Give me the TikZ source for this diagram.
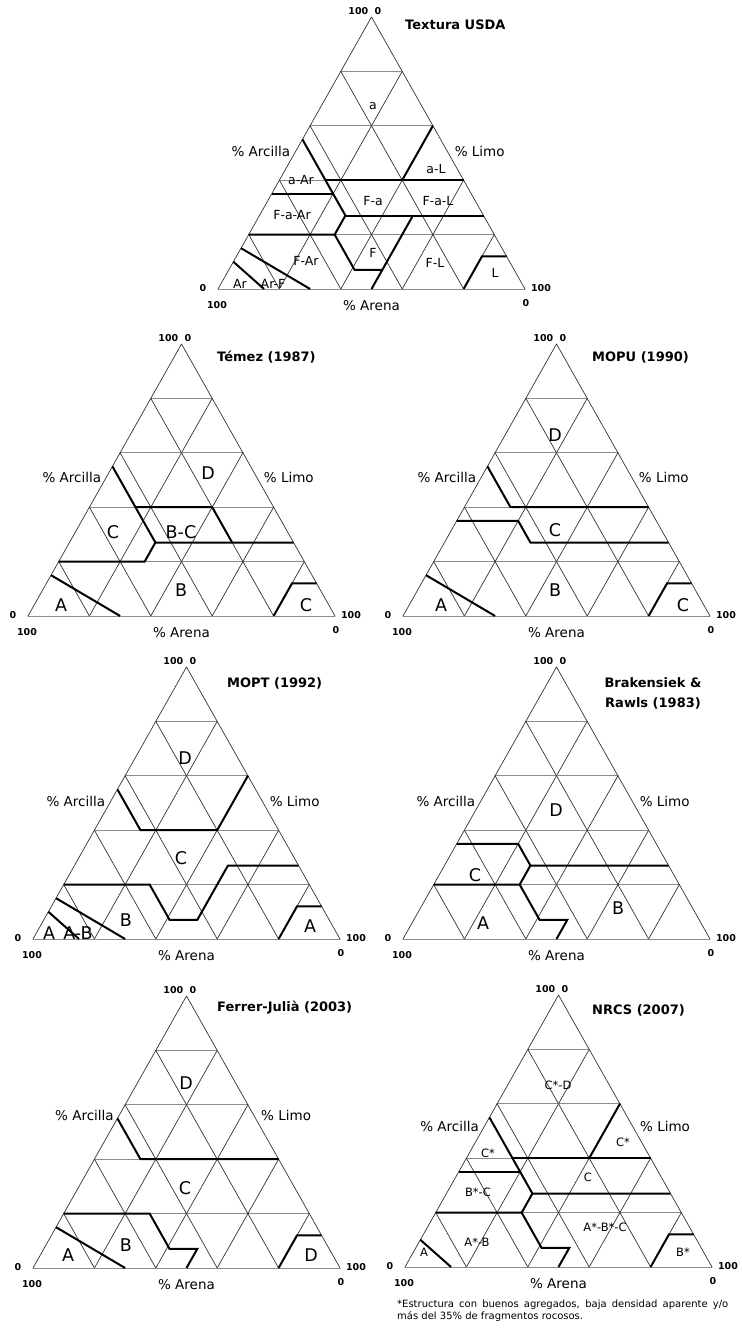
\documentclass[tikz,border=0pt]{standalone}
\usepackage{fontspec}
\setmainfont{DejaVu Sans}

\tikzset{
  gridh/.style={draw=black!45, line width=0.9pt},
  gridd/.style={draw=black!80, line width=0.7pt},
  bound/.style={draw=black, line width=2pt, line cap=butt, line join=miter},
  numlab/.style={font=\bfseries\fontsize{9.5}{10}\selectfont, inner sep=0pt},
  axlab/.style={font=\fontsize{13.5}{15}\selectfont, inner sep=0pt},
  titlelab/.style={font=\bfseries\fontsize{13}{15}\selectfont, inner sep=0pt, anchor=west},
  zonelab/.style={font=\fontsize{17.5}{18}\selectfont, inner sep=0pt},
  smalllab/.style={font=\fontsize{11.5}{12}\selectfont, inner sep=0pt},
  usdalab/.style={font=\fontsize{12.5}{13}\selectfont, inner sep=0pt},
  ternary/.style={x={(3.07pt,0pt)}, y={(1.535pt,2.72pt)}}
}

% grid of one triangle, coordinates are (% limo, % arcilla)
\newcommand{\soilgrid}{%
  \foreach \k in {20,40,60,80} {
    \draw[gridh] (0,\k) -- ({100-\k},\k);
    \draw[gridd] (\k,0) -- (\k,{100-\k});
    \draw[gridd] (\k,0) -- (0,\k);
  }
  \draw[gridh] (0,0) -- (100,0);
  \draw[gridd] (0,0) -- (0,100) -- (100,0);
}

% corner numbers and axis names (#1 = name prefix, #2 = height of side names)
\newcommand{\soilaxes}[2]{%
  \node[numlab, anchor=south east, xshift=-3pt, yshift=2.5pt] (#1-t100) at (0,100) {100};
  \node[numlab, anchor=south west, xshift=3pt, yshift=2.5pt] (#1-t0) at (0,100) {0};
  \node[numlab, xshift=-15pt, yshift=1pt] (#1-l0) at (0,0) {0};
  \node[numlab, xshift=-1pt, yshift=-16pt] (#1-l100) at (0,0) {100};
  \node[numlab, xshift=16pt, yshift=1pt] (#1-r100) at (100,0) {100};
  \node[numlab, xshift=1pt, yshift=-14pt] (#1-r0) at (100,0) {0};
  \node[axlab, yshift=-17pt] (#1-arena) at (50,0) {\% Arena};
  \node[axlab, anchor=east, xshift=-5pt] (#1-arcilla) at (0,#2) {\% Arcilla};
  \node[axlab, anchor=west, xshift=7pt] (#1-limo) at ({100-#2},#2) {\% Limo};
}

\begin{document}
\begin{tikzpicture}[line cap=round, line join=round, x=1pt, y=1pt]

  \useasboundingbox (0,0) rectangle (741,1332);

  % Textura USDA
  \begin{scope}[shift={(218,1043)}, ternary]
    \soilgrid
    \soilaxes{usda}{50.4}
    \node[titlelab] (usda-title) at (187pt,264pt) {Textura USDA};

    \draw[bound] (0,55) -- (28,27);
    \draw[bound] (15,40) -- (60,40);
    \draw[bound] (40,40) -- (40,60);
    \draw[bound] (0,35) -- (20,35);
    \draw[bound] (28,27) -- (73,27);
    \draw[bound] (50,27) -- (50,0);
    \draw[bound] (0,20) -- (28,20) -- (28,27);
    \draw[bound] (28,20) -- (41,7) -- (50,7);
    \draw[bound] (0,10) -- (15,0);
    \draw[bound] (0,15) -- (30,0);
    \draw[bound] (80,0) -- (80,12) -- (88,12);

    \node[usdalab] (usda-a) at (155pt,183pt) {a};
    \node[usdalab] (usda-aL) at (218pt,120pt) {a-L};
    \node[usdalab] (usda-aAr) at (83pt,109pt) {a-Ar};
    \node[usdalab] (usda-Fa) at (155pt,88pt) {F-a};
    \node[usdalab] (usda-FaL) at (220pt,88pt) {F-a-L};
    \node[usdalab] (usda-FaAr) at (74pt,74pt) {F-a-Ar};
    \node[usdalab] (usda-F) at (155pt,36pt) {F};
    \node[usdalab] (usda-FAr) at (88pt,28pt) {F-Ar};
    \node[usdalab] (usda-FL) at (217pt,26pt) {F-L};
    \node[usdalab] (usda-L) at (277pt,16pt) {L};
    \node[usdalab] (usda-Ar) at (22pt,5pt) {Ar};
    \node[usdalab] (usda-ArF) at (55pt,5pt) {Ar-F};
  \end{scope}

  % Temez (1987)
  \begin{scope}[shift={(28,716)}, ternary]
    \soilgrid
    \soilaxes{tem}{51}
    \node[titlelab] (tem-title) at (189pt,259pt) {Témez (1987)};

    \draw[bound] (0,55) -- (28,27) -- (73,27);
    \draw[bound] (15,40) -- (40,40) -- (53,27);
    \draw[bound] (28,27) -- (28,20) -- (0,20);
    \draw[bound] (0,15) -- (30,0);
    \draw[bound] (80,0) -- (80,12) -- (88,12);

    \node[zonelab] (tem-D) at (180pt,143pt) {D};
    \node[zonelab] (tem-C) at (85pt,84pt) {C};
    \node[zonelab] (tem-BC) at (153pt,84pt) {B-C};
    \node[zonelab] (tem-B) at (153pt,26pt) {B};
    \node[zonelab] (tem-A) at (33pt,11pt) {A};
    \node[zonelab] (tem-C2) at (278pt,11pt) {C};
  \end{scope}

  % MOPU (1990)
  \begin{scope}[shift={(403,716)}, ternary]
    \soilgrid
    \soilaxes{mopu}{51}
    \node[titlelab] (mopu-title) at (189pt,259pt) {MOPU (1990)};

    \draw[bound] (0,55) -- (15,40) -- (60,40);
    \draw[bound] (0,35) -- (20,35) -- (28,27) -- (73,27);
    \draw[bound] (0,15) -- (30,0);
    \draw[bound] (80,0) -- (80,12) -- (88,12);

    \node[zonelab] (mopu-D) at (152pt,181pt) {D};
    \node[zonelab] (mopu-C) at (152pt,86pt) {C};
    \node[zonelab] (mopu-B) at (152pt,26pt) {B};
    \node[zonelab] (mopu-A) at (38pt,11pt) {A};
    \node[zonelab] (mopu-C2) at (280pt,11pt) {C};
  \end{scope}

  % MOPT (1992)
  \begin{scope}[shift={(33,393)}, ternary]
    \soilgrid
    \soilaxes{mopt}{50.4}
    \node[titlelab] (mopt-title) at (194pt,256pt) {MOPT (1992)};

    \draw[bound] (0,55) -- (15,40) -- (40,40) -- (40,60);
    \draw[bound] (0,20) -- (28,20) -- (41,7) -- (50,7) -- (50,27) -- (73,27);
    \draw[bound] (0,10) -- (15,0);
    \draw[bound] (0,15) -- (30,0);
    \draw[bound] (80,0) -- (80,12) -- (88,12);

    \node[zonelab] (mopt-D) at (152pt,181pt) {D};
    \node[zonelab] (mopt-C) at (148pt,81pt) {C};
    \node[zonelab] (mopt-B) at (93pt,19pt) {B};
    \node[zonelab] (mopt-A) at (16pt,6pt) {A};
    \node[zonelab] (mopt-AB) at (45pt,6pt) {A-B};
    \node[zonelab] (mopt-A2) at (277pt,13pt) {A};
  \end{scope}

  % Brakensiek & Rawls (1983)
  \begin{scope}[shift={(403,393)}, ternary]
    \soilgrid
    \soilaxes{brak}{50.4}
    \node[titlelab, anchor=center, align=center, font=\bfseries\fontsize{13}{20}\selectfont] (brak-title) at (250pt,246pt) {Brakensiek \&\\Rawls (1983)};

    \draw[bound] (0,35) -- (20,35) -- (28,27) -- (73,27);
    \draw[bound] (0,20) -- (28,20) -- (28,27);
    \draw[bound] (28,20) -- (41,7) -- (50,7) -- (50,0);

    \node[zonelab] (brak-D) at (153pt,129pt) {D};
    \node[zonelab] (brak-C) at (72pt,64pt) {C};
    \node[zonelab] (brak-A) at (80pt,16pt) {A};
    \node[zonelab] (brak-B) at (215pt,31pt) {B};
  \end{scope}

  % Ferrer-Julia (2003)
  \begin{scope}[shift={(33,64)}, ternary]
    \soilgrid
    \soilaxes{ferr}{56}
    \node[titlelab] (ferr-title) at (184pt,260pt) {Ferrer-Julià (2003)};

    \draw[bound] (0,55) -- (15,40) -- (60,40);
    \draw[bound] (0,20) -- (28,20) -- (41,7) -- (50,7) -- (50,0);
    \draw[bound] (0,15) -- (30,0);
    \draw[bound] (80,0) -- (80,12) -- (88,12);

    \node[zonelab] (ferr-D) at (153pt,185pt) {D};
    \node[zonelab] (ferr-C) at (152pt,80pt) {C};
    \node[zonelab] (ferr-B) at (93pt,23pt) {B};
    \node[zonelab] (ferr-A) at (35pt,13pt) {A};
    \node[zonelab] (ferr-D2) at (278pt,13pt) {D};
  \end{scope}

  % NRCS (2007)
  \begin{scope}[shift={(405,65)}, ternary]
    \soilgrid
    \soilaxes{nrcs}{51.5}
    \node[titlelab] (nrcs-title) at (187pt,257pt) {NRCS (2007)};

    \draw[bound] (0,55) -- (28,27) -- (73,27);
    \draw[bound] (15,40) -- (60,40);
    \draw[bound] (0,35) -- (20,35);
    \draw[bound] (40,40) -- (40,60);
    \draw[bound] (0,20) -- (28,20) -- (28,27);
    \draw[bound] (28,20) -- (41,7) -- (50,7) -- (50,0);
    \draw[bound] (0,10) -- (15,0);
    \draw[bound] (80,0) -- (80,12) -- (88,12);

    \node[smalllab] (nrcs-CD) at (153pt,182pt) {C*-D};
    \node[smalllab] (nrcs-C1) at (218pt,125pt) {C*};
    \node[smalllab] (nrcs-C2) at (83pt,114pt) {C*};
    \node[smalllab] (nrcs-C) at (183pt,90pt) {C};
    \node[smalllab] (nrcs-BC) at (73pt,75pt) {B*-C};
    \node[smalllab] (nrcs-AB) at (72pt,25pt) {A*-B};
    \node[smalllab] (nrcs-ABC) at (200pt,40pt) {A*-B*-C};
    \node[smalllab] (nrcs-A) at (19pt,15pt) {A};
    \node[smalllab] (nrcs-B) at (278pt,15pt) {B*};
  \end{scope}

  \node[anchor=north west, inner sep=0pt, text width=331pt, align=justify,
        font=\fontsize{10}{12}\selectfont] (nota) at (397,32)
    {*Estructura con buenos agregados, baja densidad aparente y/o\linebreak más del 35\% de fragmentos rocosos.};

\end{tikzpicture}
\end{document}
